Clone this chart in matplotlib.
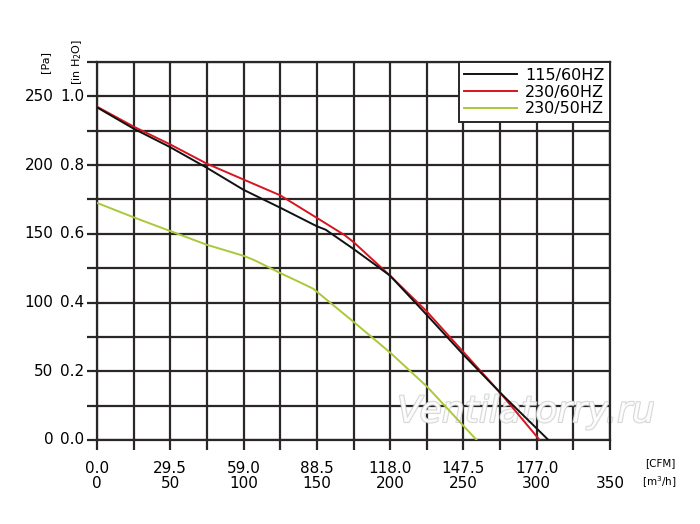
import matplotlib
matplotlib.use('Agg')
import matplotlib.pyplot as plt
import matplotlib.patheffects as pe
import numpy as np

# flow in m3/h, pressure in Pa
flow_115_60 = [0, 25, 50, 75, 100, 125, 150, 156, 175, 193, 200, 225, 250, 275, 308]
pa_115_60 = [242, 226.5, 213, 198, 182, 169, 155.5, 153, 139, 125, 119.5, 91, 62, 34.5, 0]

flow_230_60 = [0, 25, 50, 75, 100, 125, 150, 169, 175, 200, 225, 250, 275, 302]
pa_230_60 = [242.5, 228, 215, 201, 189.5, 178, 161.6, 149, 144, 119.5, 93.5, 64, 34.5, 0]

flow_230_50 = [0, 25, 50, 75, 100, 107, 125, 138.5, 147.6, 175, 200, 225, 259]
pa_230_50 = [172.5, 162, 152, 142, 134, 131, 121.5, 114.7, 110, 86, 63.6, 39, 0]

pa_ticks = [0, 50, 100, 150, 200, 250]
inh2o_labels = ['0.0', '0.2', '0.4', '0.6', '0.8', '1.0']
m3h_ticks = [0, 50, 100, 150, 200, 250, 300, 350]
cfm_labels = ['0.0', '29.5', '59.0', '88.5', '118.0', '147.5', '177.0']

fig = plt.figure(figsize=(7, 5.24), dpi=100)
ax = fig.add_axes([97/700, 1-440/524, 513/700, 378/524])

ax.set_xlim(0, 350)
ax.set_ylim(0, 275)
ax.set_xticks(np.arange(0, 351, 25))
ax.set_yticks(np.arange(0, 276, 25))
ax.grid(True, color='#2b2727', lw=1.6)
ax.set_axisbelow(True)
for s in ax.spines.values():
    s.set_color('#2b2727')
    s.set_linewidth(1.6)
ax.tick_params(direction='out', length=7, width=1.6, color='#2b2727',
               labelleft=False, labelbottom=False)

ax.plot(flow_115_60, pa_115_60, color='#111111', lw=1.4, label='115/60HZ', zorder=4)
ax.plot(flow_230_60, pa_230_60, color='#d7141f', lw=1.4, label='230/60HZ', zorder=3)
ax.plot(flow_230_50, pa_230_50, color='#a9c83a', lw=1.4, label='230/50HZ', zorder=3)

leg = ax.legend(loc='upper right', bbox_to_anchor=(1.0, 1.0), borderaxespad=0,
                fancybox=False, framealpha=1, edgecolor='#2b2727', fontsize=11.5,
                handlelength=3.3, handletextpad=0.5, labelspacing=0.12,
                borderpad=0.35)
leg.get_frame().set_linewidth(1.4)
leg.set_zorder(10)

tf = ax.get_yaxis_transform()
for p, lab in zip(pa_ticks, inh2o_labels):
    ax.text(-0.025, p, lab, transform=tf, ha='right', va='center', fontsize=11)
    ax.text(-0.085, p, str(p), transform=tf, ha='right', va='center', fontsize=11)

xf = ax.get_xaxis_transform()
for v, lab in zip(m3h_ticks, cfm_labels):
    ax.text(v, -0.075, lab, transform=xf, ha='center', va='center', fontsize=11)
for v in m3h_ticks:
    ax.text(v, -0.115, str(v), transform=xf, ha='center', va='center', fontsize=11)

fig.text(645/700, 1-463/524, '[CFM]', ha='left', va='center', fontsize=7.5)
fig.text(642/700, 1-482/524, '[m$^3$/h]', ha='left', va='center', fontsize=7.5)

fig.text(45/700, 1-62/524, '[Pa]', rotation=90, ha='center', va='center', fontsize=8)
fig.text(77/700, 1-62/524, '[in H$_2$O]', rotation=90, ha='center', va='center', fontsize=8)

# watermark sits between grid and curves
wm = ax.text(526/700, 1-412/524, 'Ventilatorry.ru', transform=fig.transFigure,
             ha='center', va='center', fontsize=26, style='italic',
             color='white', alpha=0.85, zorder=2.5, clip_on=False)
wm.set_path_effects([pe.withStroke(linewidth=1.5, foreground='#cfcfcf')])

fig.savefig('out.png', dpi=100)
